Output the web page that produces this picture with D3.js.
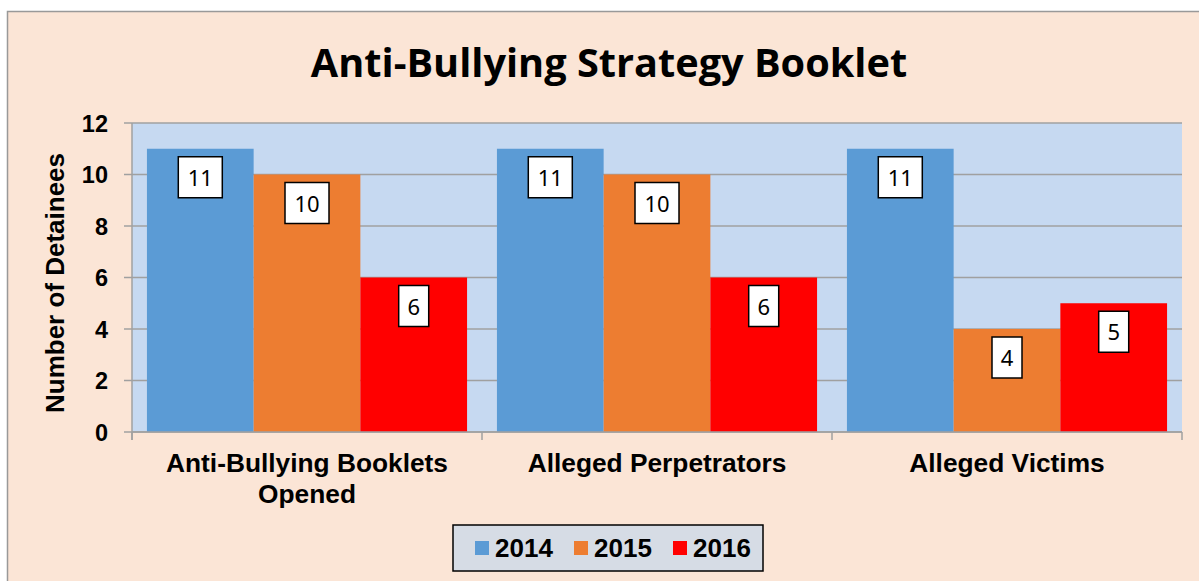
<!DOCTYPE html>
<html>
<head>
<meta charset="utf-8">
<script src="https://cdn.jsdelivr.net/npm/d3@7"></script>
<style>
  body { margin: 0; background: #fff; }
  svg { display: block; }
  .arial { font-family: Arial, 'Liberation Sans', sans-serif; font-weight: bold; }
</style>
</head>
<body>
<svg></svg>
<script>
(function () {
  'use strict';

  var categories = [ ['Anti-Bullying Booklets', 'Opened'], ['Alleged Perpetrators'], ['Alleged Victims'] ];
  var years = [ '2014', '2015', '2016' ];
  var colors = [ '#5B9BD5', '#ED7D31', '#FF0000' ];
  var values2014 = [ 11, 11, 11 ];
  var values2015 = [ 10, 10, 4 ];
  var values2016 = [ 6, 6, 5 ];
  var yTicks = [ 0, 2, 4, 6, 8, 10, 12 ];

  var series = [ values2014, values2015, values2016 ];

  var svg = d3.select('svg')
      .attr('width', 1199)
      .attr('height', 581);

  // chart frame, runs off the right and bottom edge
  svg.append('rect')
      .attr('x', 7.5).attr('y', 11.5)
      .attr('width', 1300).attr('height', 700)
      .attr('fill', '#FBE5D6')
      .attr('stroke', '#999').attr('stroke-width', 1.5);

  svg.append('text')
      .attr('x', 609).attr('y', 77)
      .attr('text-anchor', 'middle')
      .style('font-family', 'Open Sans')
      .style('font-weight', 'bold')
      .style('font-size', '39.7px')
      .text('Anti-Bullying Strategy Booklet');

  var left = 132, right = 1182, top = 123, bottom = 432;

  var x = d3.scaleBand()
      .domain(d3.range(categories.length))
      .range([left, right]);

  var inner = d3.scaleBand()
      .domain(d3.range(years.length))
      .range([0, x.bandwidth()])
      .paddingOuter(0.14);

  var y = d3.scaleLinear()
      .domain([0, 12])
      .range([bottom, top]);

  svg.append('rect')
      .attr('x', left).attr('y', top)
      .attr('width', right - left).attr('height', bottom - top)
      .attr('fill', '#C6D9F1');

  // gridlines with the little tick stubs on the left
  svg.append('g')
      .selectAll('line')
      .data(yTicks)
      .enter()
      .append('line')
      .attr('x1', left - 8).attr('x2', right)
      .attr('y1', function (d) { return y(d); })
      .attr('y2', function (d) { return y(d); })
      .attr('stroke', '#A0A0A0').attr('stroke-width', 1.5);

  svg.append('g')
      .selectAll('text')
      .data(yTicks)
      .enter()
      .append('text')
      .attr('class', 'arial')
      .attr('x', 108)
      .attr('y', function (d) { return y(d) + 8.5; })
      .attr('text-anchor', 'end')
      .style('font-size', '23.5px')
      .text(function (d) { return d; });

  svg.append('line')
      .attr('x1', left).attr('x2', left)
      .attr('y1', top).attr('y2', bottom + 8)
      .attr('stroke', '#A0A0A0').attr('stroke-width', 1.5);

  svg.append('g')
      .selectAll('line')
      .data(d3.range(categories.length + 1))
      .enter()
      .append('line')
      .attr('x1', function (d) { return left + d * x.bandwidth(); })
      .attr('x2', function (d) { return left + d * x.bandwidth(); })
      .attr('y1', bottom).attr('y2', bottom + 8)
      .attr('stroke', '#A0A0A0').attr('stroke-width', 1.5);

  svg.append('text')
      .attr('class', 'arial')
      .attr('transform', 'translate(64,283) rotate(-90)')
      .attr('text-anchor', 'middle')
      .style('font-size', '26px')
      .text('Number of Detainees');

  var groups = svg.selectAll('g.cat')
      .data(categories)
      .enter()
      .append('g')
      .attr('class', 'cat')
      .attr('transform', function (d, i) {
        return 'translate(' + x(i) + ',0)';
      });

  groups.selectAll('rect')
      .data(function (d, i) {
        return series.map(function (s, j) { return { s: j, v: s[i] }; });
      })
      .enter()
      .append('rect')
      .attr('x', function (d) { return inner(d.s); })
      .attr('width', inner.bandwidth())
      .attr('y', function (d) { return y(d.v); })
      .attr('height', function (d) { return y(0) - y(d.v); })
      .attr('fill', function (d) { return colors[d.s]; });

  // bottom axis line drawn over bars
  svg.append('line')
      .attr('x1', left).attr('x2', right)
      .attr('y1', bottom).attr('y2', bottom)
      .attr('stroke', '#A0A0A0').attr('stroke-width', 1.5);

  // value labels in white boxes
  var labels = groups.selectAll('g.lbl')
      .data(function (d, i) {
        return series.map(function (s, j) { return { s: j, v: s[i] }; });
      })
      .enter()
      .append('g')
      .attr('class', 'lbl');

  labels.append('rect')
      .attr('x', function (d) {
        var w = d.v >= 10 ? 44 : 30;
        return inner(d.s) + inner.bandwidth() / 2 - w / 2;
      })
      .attr('y', function (d) { return y(d.v) + 8; })
      .attr('width', function (d) { return d.v >= 10 ? 44 : 30; })
      .attr('height', 41)
      .attr('fill', '#fff')
      .attr('stroke', '#000').attr('stroke-width', 1.5);

  labels.append('text')
      .attr('x', function (d) { return inner(d.s) + inner.bandwidth() / 2; })
      .attr('y', function (d) { return y(d.v) + 37; })
      .attr('text-anchor', 'middle')
      .style('font-family', 'Noto Sans')
      .style('font-size', '22px')
      .text(function (d) { return d.v; });

  groups.selectAll('text.cat')
      .data(function (d) { return d; })
      .enter()
      .append('text')
      .attr('class', 'arial')
      .attr('x', x.bandwidth() / 2)
      .attr('y', function (d, i) { return 472 + i * 30.5; })
      .attr('text-anchor', 'middle')
      .style('font-size', '26.3px')
      .text(function (d) { return d; });

  // legend
  var legend = svg.append('g');
  legend.append('rect')
      .attr('x', 453).attr('y', 525)
      .attr('width', 310).attr('height', 46)
      .attr('fill', '#D6DCE5')
      .attr('stroke', '#000').attr('stroke-width', 1.5);

  var items = legend.selectAll('g')
      .data(years)
      .enter()
      .append('g')
      .attr('transform', function (d, i) {
        return 'translate(' + (475 + i * 99) + ',0)';
      });

  items.append('rect')
      .attr('x', 0).attr('y', 541)
      .attr('width', 14).attr('height', 14)
      .attr('fill', function (d, i) { return colors[i]; });

  items.append('text')
      .attr('class', 'arial')
      .attr('x', 20).attr('y', 557)
      .style('font-size', '26px')
      .text(function (d) { return d; });
} ());
</script>
</body>
</html>
